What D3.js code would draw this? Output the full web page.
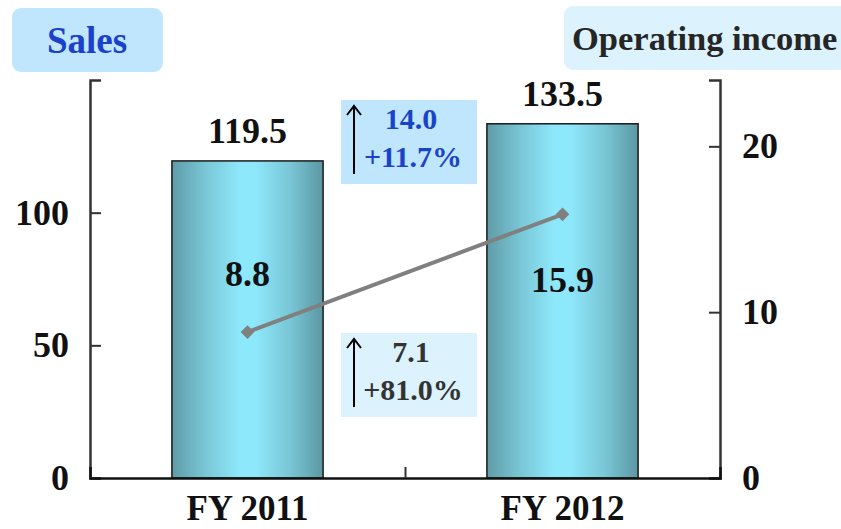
<!DOCTYPE html>
<html>
<head>
<meta charset="utf-8">
<script src="https://cdn.jsdelivr.net/npm/d3@7"></script>
<style>
  body { margin: 0; background: #fff; }
  svg { font-family: "Liberation Serif", "Times New Roman", serif; font-weight: bold; }
</style>
</head>
<body>
<script>
// chart data
const years = ["FY 2011", "FY 2012"];
const sales = [119.5, 133.5];
const opIncome = [8.8, 15.9];
const salesTicks = [0, 50, 100];
const incomeTicks = [0, 10, 20];
const salesChange = ["14.0", "+11.7%"];
const incomeChange = ["7.1", "+81.0%"];

const W = 841, H = 529;
const plotLeft = 90, plotRight = 720, plotTop = 80, plotBottom = 478;

const svg = d3.select("body").append("svg")
    .attr("width", W)
    .attr("height", H);

// bar gradient (dark edges, light middle)
const grad = svg.append("defs").append("linearGradient")
    .attr("id", "barGrad")
    .attr("x1", "0%").attr("x2", "100%").attr("y1", "0%").attr("y2", "0%");
[[0, "#5f9ba7"], [0.22, "#79c6d6"], [0.45, "#8ee8fb"], [0.55, "#8ee8fb"], [0.78, "#79c6d6"], [1, "#5c97a3"]]
    .forEach(s => grad.append("stop").attr("offset", s[0]).attr("stop-color", s[1]));

// scales
const x = d3.scaleBand().domain(years).range([plotLeft, plotRight]).padding(0);
const ySales = d3.scaleLinear().domain([0, 150]).range([plotBottom, plotTop]);
const yInc = d3.scaleLinear().domain([0, 24]).range([plotBottom, plotTop]);
const barW = x.bandwidth() * 0.48;

// title boxes
svg.append("rect").attr("x", 12).attr("y", 8).attr("width", 151).attr("height", 64)
    .attr("rx", 9).attr("fill", "#bfe6fc");
svg.append("text").attr("x", 87).attr("y", 53).attr("text-anchor", "middle")
    .attr("font-size", 37).attr("fill", "#1a40cc").text("Sales");

svg.append("rect").attr("x", 564).attr("y", 6).attr("width", 300).attr("height", 64)
    .attr("rx", 9).attr("fill", "#dcf2fd");
svg.append("text").attr("x", 572).attr("y", 50)
    .attr("font-size", 34.5).attr("fill", "#262626").text("Operating income");

// bars
svg.selectAll("rect.bar")
    .data(years)
    .enter()
    .append("rect")
    .attr("class", "bar")
    .attr("x", d => x(d) + (x.bandwidth() - barW) / 2)
    .attr("y", (d, i) => ySales(sales[i]))
    .attr("width", barW)
    .attr("height", (d, i) => plotBottom - ySales(sales[i]))
    .attr("fill", "url(#barGrad)")
    .attr("stroke", "#1a1a1a")
    .attr("stroke-width", 1.5);

// sales value labels
svg.selectAll("text.salesLbl")
    .data(years)
    .enter()
    .append("text")
    .attr("x", d => x(d) + x.bandwidth() / 2)
    .attr("y", (d, i) => ySales(sales[i]) - 18)
    .attr("text-anchor", "middle")
    .attr("font-size", 36)
    .attr("fill", "#111")
    .text((d, i) => sales[i].toFixed(1));

// axes
const axisL = svg.append("g").attr("transform", `translate(${plotLeft},0)`)
    .call(d3.axisRight(ySales).tickValues(salesTicks).tickSize(11).tickFormat(""));
const axisR = svg.append("g").attr("transform", `translate(${plotRight},0)`)
    .call(d3.axisLeft(yInc).tickValues(incomeTicks).tickSize(11).tickFormat(""));
const axisB = svg.append("g").attr("transform", `translate(0,${plotBottom})`)
    .call(d3.axisTop(d3.scaleLinear().domain([0, 2]).range([plotLeft, plotRight])).tickValues([1]).tickSize(11).tickFormat(""));
[axisL, axisR, axisB].forEach(g => {
    g.select(".domain").attr("stroke", "#333").attr("stroke-width", 2.5);
    g.selectAll(".tick line").attr("stroke", "#333").attr("stroke-width", 2);
});
axisB.select(".domain").attr("stroke", "#111");

// tick labels
svg.selectAll("text.lt").data(salesTicks).enter().append("text")
    .attr("x", 69).attr("y", d => ySales(d) + 12)
    .attr("text-anchor", "end").attr("font-size", 36).attr("fill", "#111")
    .text(d => d);
svg.selectAll("text.rt").data(incomeTicks).enter().append("text")
    .attr("x", 742).attr("y", d => yInc(d) + 12)
    .attr("font-size", 36).attr("fill", "#111")
    .text(d => d);
svg.selectAll("text.xt").data(years).enter().append("text")
    .attr("x", d => x(d) + x.bandwidth() / 2).attr("y", 520)
    .attr("text-anchor", "middle").attr("font-size", 35).attr("fill", "#111")
    .text(d => d);

// operating income line
const pts = years.map((d, i) => [x(d) + x.bandwidth() / 2, yInc(opIncome[i])]);
svg.append("path")
    .attr("d", d3.line()(pts))
    .attr("fill", "none").attr("stroke", "#808080").attr("stroke-width", 4);
svg.selectAll("path.mk").data(pts).enter().append("path")
    .attr("d", d3.symbol(d3.symbolDiamond2, 120))
    .attr("transform", d => `translate(${d[0]},${d[1]})`)
    .attr("fill", "#808080");

// income value labels inside bars
svg.selectAll("text.incLbl")
    .data(years)
    .enter()
    .append("text")
    .attr("x", d => x(d) + x.bandwidth() / 2)
    .attr("y", (d, i) => i === 0 ? 286 : 292)
    .attr("text-anchor", "middle")
    .attr("font-size", 36)
    .attr("fill", "#111")
    .text((d, i) => opIncome[i].toFixed(1));

// change annotation boxes
function changeBox(bx, by, fill, color, lines) {
    svg.append("rect").attr("x", bx).attr("y", by).attr("width", 136).attr("height", 84).attr("fill", fill);
    const ax = bx + 13;
    svg.append("line").attr("x1", ax).attr("x2", ax).attr("y1", by + 6).attr("y2", by + 74)
        .attr("stroke", "#000").attr("stroke-width", 2);
    svg.append("path").attr("d", `M${ax - 7},${by + 15} L${ax},${by + 6} L${ax + 7},${by + 15}`)
        .attr("fill", "none").attr("stroke", "#000").attr("stroke-width", 2);
    svg.append("text").attr("x", bx + 70).attr("y", by + 29).attr("text-anchor", "middle")
        .attr("font-size", 30).attr("fill", color).text(lines[0]);
    svg.append("text").attr("x", bx + 72).attr("y", by + 67).attr("text-anchor", "middle")
        .attr("font-size", 30).attr("fill", color).text(lines[1]);
}
changeBox(341, 100, "#bfe6fc", "#1a44c8", salesChange);
changeBox(341, 333, "#dcf2fd", "#333", incomeChange);
</script>
</body>
</html>
